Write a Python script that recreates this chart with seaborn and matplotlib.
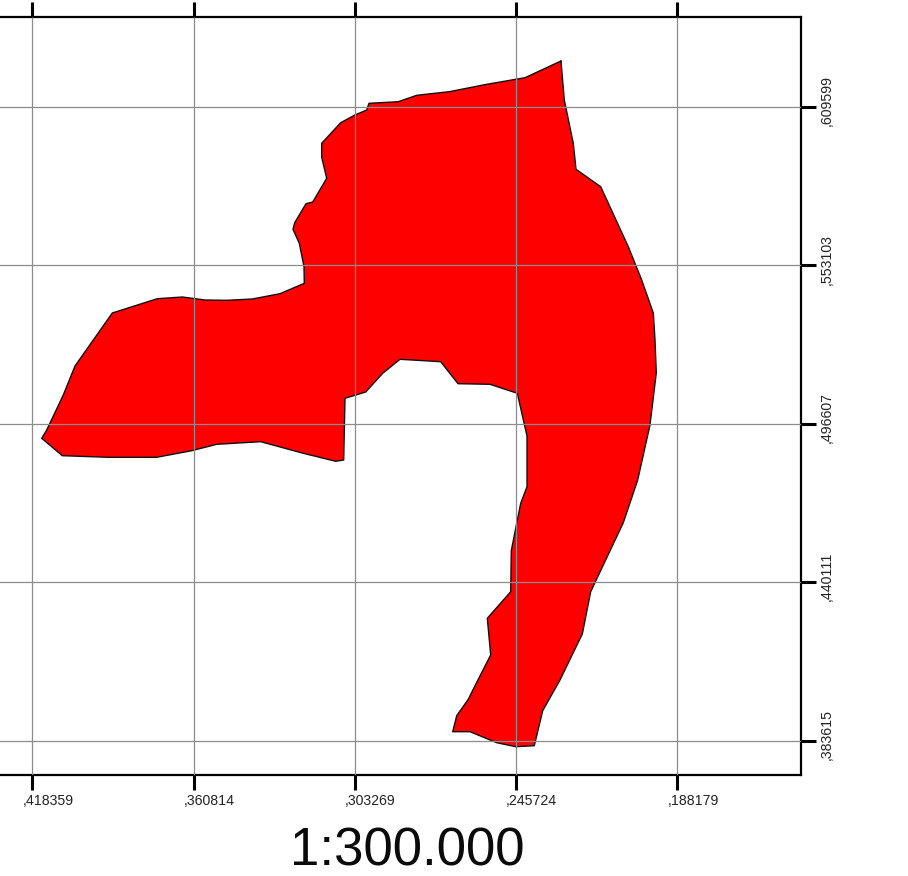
import numpy as np
import pandas as pd
import matplotlib
matplotlib.use("Agg")
import matplotlib.pyplot as plt
from matplotlib.transforms import ScaledTranslation
import seaborn as sns

easting = [229753, 228575, 225364, 224400, 215585, 205736, 200955, 196810, 196207, 195743,
           197991, 202381, 207520, 219154, 222147, 230110, 236285, 239282, 245919, 252701,
           262228, 268402, 266974, 262834, 260801, 254841, 256054, 247704, 247490, 245563,
           244135, 241887, 241887, 245348, 255091, 266511, 272684, 287209, 293384, 299449,
           306837, 307301, 310155, 321718, 336921, 352623, 361545, 374035, 391308, 407724,
           415075, 413291, 407367, 403192, 389881, 373821, 364899, 356799, 349054, 339918,
           330033, 321362, 321469, 323146, 325394, 324787, 320755, 318362, 313367, 315153,
           315153, 308372, 303268, 299093, 298272, 287816, 281249, 269615, 256268, 242600]
northing = [625887, 611987, 596555, 587288, 581087, 559703, 547835, 536074, 526451, 514797,
            496157, 476555, 461337, 436745, 421669, 405275, 394334, 381860, 381503, 382929,
            386849, 386849, 392552, 398396, 402531, 414185, 427265, 436745, 451358, 461123,
            468251, 474167, 492237, 507455, 510662, 510876, 518717, 519573, 514583, 507918,
            505673, 483683, 483220, 486071, 490205, 489278, 486998, 484645, 484645, 485216,
            491417, 494375, 506849, 517185, 536074, 541170, 541776, 540707, 540600, 541063,
            542952, 546659, 552575, 560915, 565904, 568257, 575028, 575634, 584081, 591565,
            596555, 603897, 606641, 608423, 610811, 611381, 613662, 614945, 617582, 619934]
x_ticks = [418359, 360814, 303269, 245724, 188179]
y_ticks = [609599, 553103, 496607, 440111, 383615]
scale_label = "1:300.000"

sns.set_theme(style="ticks")
plt.rcParams["font.family"] = ["Liberation Sans", "DejaVu Sans"]

W, H = 908, 876
fig = plt.figure(figsize=(W / 100, H / 100), dpi=100)
left_px, right_px, top_px, bottom_px = -30, 801, 16.5, 775
ax = fig.add_axes([left_px / W, 1 - bottom_px / H, (right_px - left_px) / W, (bottom_px - top_px) / H])

ring = pd.DataFrame({"x": easting + easting[:1], "y": northing + northing[:1]})
ax.fill(easting, northing, color="#ff0000", lw=0, zorder=1)
sns.lineplot(data=ring, x="x", y="y", sort=False, estimator=None, color="#111111",
             linewidth=1.0, ax=ax, zorder=1.5, legend=False)

ax.set_xlim(440663, 144104)
ax.set_ylim(371417, 641746)
ax.set_xlabel("")
ax.set_ylabel("")
ax.set_xticks(x_ticks)
ax.set_yticks(y_ticks)
ax.set_xticklabels([f",{v}" for v in x_ticks])
ax.set_yticklabels([f",{v}" for v in y_ticks], rotation=90, va="center")

ax.set_axisbelow(False)
ax.grid(True, color="#8c8c8c", linewidth=0.9)
ax.tick_params(axis="both", length=10.5, width=2.2, color="black", labelsize=10.2,
               labelcolor="#222222", pad=3.0)
ax.tick_params(top=True, bottom=True, left=False, right=True,
               labeltop=False, labelbottom=True, labelleft=False, labelright=True)
for s in ax.spines.values():
    s.set_visible(True)
    s.set_linewidth(1.6)
    s.set_color("black")

shift_x = ScaledTranslation(15.5 / 100, 0, fig.dpi_scale_trans)
for lab in ax.get_xticklabels():
    lab.set_transform(lab.get_transform() + shift_x)
shift_y = ScaledTranslation(0, 6 / 100, fig.dpi_scale_trans)
for lab in ax.get_yticklabels():
    lab.set_transform(lab.get_transform() + shift_y)

fig.text(407.5 / W, 1 - 865 / H, scale_label, ha="center", va="baseline", fontsize=38, color="#0a0a0a")

fig.savefig("out.png", dpi=100, facecolor="white")
